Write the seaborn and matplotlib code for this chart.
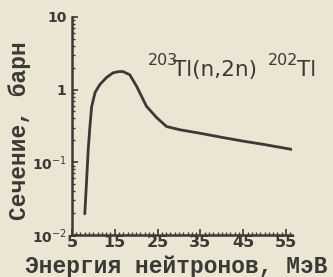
import numpy as np
import pandas as pd
import seaborn as sns
import matplotlib
matplotlib.use("Agg")
import matplotlib.pyplot as plt
from matplotlib.ticker import FixedLocator, FixedFormatter, MultipleLocator, LogLocator, NullFormatter

# energy (MeV) and cross-section (barn)
energy = [8.0, 8.4, 8.8, 9.2, 9.6, 10.4, 11.5, 13.1, 14.6, 16.0, 16.9, 18.5, 20.1,
          22.4, 24.8, 27.1, 30.2, 35.0, 40.0, 45.0, 50.0, 55.0, 56.4]
sigma = [0.0195, 0.052, 0.148, 0.31, 0.58, 0.91, 1.17, 1.47, 1.7, 1.77, 1.77, 1.6, 1.11,
         0.59, 0.41, 0.31, 0.28, 0.25, 0.22, 0.195, 0.175, 0.155, 0.15]

xticks = [5, 15, 25, 35, 45, 55]
yticks = [0.01, 0.1, 1, 10]
ylabels = ["10$^{-2}$", "10$^{-1}$", "1", "10"]

df = pd.DataFrame({"E": energy, "sigma": sigma})

sns.set_theme(style="ticks")
bg = "#ebe5d3"
ink = "#3a3934"
fig = plt.figure(figsize=(3.33, 2.77), dpi=100, facecolor=bg)
ax = fig.add_axes([0.216, 0.152, 0.661, 0.787], facecolor=bg)

sns.lineplot(data=df, x="E", y="sigma", ax=ax, color=ink, linewidth=2.0)
ax.set_yscale("log")
ax.set_xlim(5, 56.4)
ax.set_ylim(0.01, 10)

for s in ["top", "right"]:
    ax.spines[s].set_visible(False)
for s in ["left", "bottom"]:
    ax.spines[s].set_color(ink)
    ax.spines[s].set_linewidth(1.8)

ax.xaxis.set_major_locator(FixedLocator(xticks))
ax.xaxis.set_minor_locator(MultipleLocator(1))
ax.yaxis.set_major_locator(FixedLocator(yticks))
ax.yaxis.set_major_formatter(FixedFormatter(ylabels))
ax.yaxis.set_minor_locator(LogLocator(base=10, subs=np.arange(2, 10) * 1.0))
ax.yaxis.set_minor_formatter(NullFormatter())

ax.tick_params(axis="both", which="major", direction="in", length=4, width=1.2, color=ink)
ax.tick_params(axis="both", which="minor", direction="in", length=2.5, width=1.0, color=ink)
ax.tick_params(axis="x", labelsize=11.5, labelcolor=ink, pad=0)
ax.tick_params(axis="y", labelsize=10, labelcolor=ink, pad=4)
for lab in ax.get_xticklabels() + ax.get_yticklabels():
    lab.set_fontweight("bold")

ax.set_xlabel("Энергия нейтронов, МэВ", fontsize=16.5, fontfamily="Liberation Mono",
              fontweight="bold", color=ink)
ax.set_ylabel("Сечение, барн", fontsize=16.5, fontfamily="Liberation Mono",
              fontweight="bold", color=ink)
ax.xaxis.set_label_coords(0.473, -0.09)
ax.yaxis.set_label_coords(-0.185, 0.477)

# reaction label, superscripts nearly full size as in the original
ax.text(0.345, 0.80, "203", transform=ax.transAxes, fontsize=11.5, color=ink, va="center")
ax.text(0.459, 0.757, "Tl(n,2n)", transform=ax.transAxes, fontsize=15.5, color=ink, va="center")
ax.text(0.891, 0.80, "202", transform=ax.transAxes, fontsize=11.5, color=ink, va="center")
ax.text(1.023, 0.757, "Tl", transform=ax.transAxes, fontsize=15.5, color=ink, va="center",
        clip_on=False)

fig.savefig("out.png", dpi=100, facecolor=bg)
